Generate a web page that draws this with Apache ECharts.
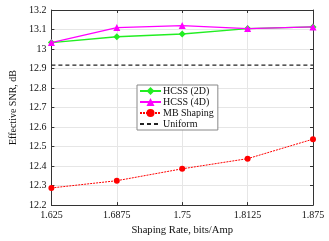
<!DOCTYPE html>
<html><head><meta charset="utf-8">
<script src="https://cdn.jsdelivr.net/npm/echarts@6/dist/echarts.min.js"></script>
<style>html,body{margin:0;padding:0;background:#fff}#c{width:329px;height:241px}</style>
</head><body><div id="c"></div>
<script>
var rates = [1.625, 1.6875, 1.75, 1.8125, 1.875];
var xTickLabels = ['1.625', '1.6875', '1.75', '1.8125', '1.875'];
var hcss2d = [13.033, 13.063, 13.077, 13.105, 13.113];
var hcss4d = [13.033, 13.110, 13.120, 13.105, 13.113];
var mbShaping = [12.288, 12.325, 12.386, 12.438, 12.538];
var uniform = [12.917, 12.917, 12.917, 12.917, 12.917];

function pairs(v){ return rates.map(function(x,i){ return [x, v[i]]; }); }
var font = 'Liberation Serif';
var axCol = '#333';
var txtCol = '#111';
var chart = echarts.init(document.getElementById('c'));
function frameY(pos){
  return {type: 'value', position: pos, min: 12.2, max: 13.2, interval: 0.1,
    axisLine: {show: true, lineStyle: {color: axCol}},
    axisTick: {show: true, inside: true, length: 3, lineStyle: {color: axCol}},
    axisLabel: {show: false}, splitLine: {show: false}};
}
function frameX(pos){
  return {type: 'value', position: pos, min: 1.625, max: 1.875, interval: 0.0625,
    axisLine: {show: true, lineStyle: {color: axCol}},
    axisTick: {show: true, inside: true, length: 3, lineStyle: {color: axCol}},
    axisLabel: {show: false}, splitLine: {show: false}};
}
chart.setOption({
  animation: false,
  textStyle: {fontFamily: font},
  grid: {left: 41, right: 16, top: 10, bottom: 32},
  xAxis: [{
    type: 'value', position: 'bottom', min: 1.625, max: 1.875, interval: 0.0625,
    name: 'Shaping Rate, bits/Amp', nameLocation: 'middle', nameGap: 17,
    nameTextStyle: {fontFamily: font, fontSize: 10.6, color: txtCol},
    axisLine: {show: true, lineStyle: {color: axCol}},
    axisTick: {show: true, inside: true, length: 3, lineStyle: {color: axCol}},
    axisLabel: {fontFamily: font, fontSize: 10, color: txtCol, margin: 5,
      formatter: function(v){ var i = rates.indexOf(+v.toFixed(4)); return i >= 0 ? xTickLabels[i] : ''; }},
    splitLine: {show: true, lineStyle: {color: '#e6e6e6'}}
  }, frameX('top')],
  yAxis: [{
    type: 'value', position: 'left', min: 12.2, max: 13.2, interval: 0.1,
    name: 'Effective SNR, dB', nameLocation: 'middle', nameGap: 32,
    nameTextStyle: {fontFamily: font, fontSize: 10, color: txtCol},
    axisLine: {show: true, lineStyle: {color: axCol}},
    axisTick: {show: true, inside: true, length: 3, lineStyle: {color: axCol}},
    axisLabel: {fontFamily: font, fontSize: 10, color: txtCol, margin: 5,
      formatter: function(v){ return String(Math.round(v*10)/10); }},
    splitLine: {show: true, lineStyle: {color: '#e6e6e6'}}
  }, frameY('right')],
  legend: {
    orient: 'vertical', left: 137, top: 85,
    backgroundColor: '#fff', borderColor: '#888', borderWidth: 1,
    padding: [1, 4, 1, 2], itemGap: 1, itemWidth: 21, itemHeight: 10,
    textStyle: {fontFamily: font, fontSize: 10, color: txtCol, padding: [0,0,0,-3]},
    data: ['HCSS (2D)', 'HCSS (4D)', 'MB Shaping', {name: 'Uniform', itemStyle: {opacity: 0}}]
  },
  series: [
    {name: 'HCSS (2D)', type: 'line', data: pairs(hcss2d), symbol: 'diamond', symbolSize: 7,
     itemStyle: {color: '#22ee22'}, lineStyle: {color: '#22ee22', width: 1.3}, z: 3},
    {name: 'HCSS (4D)', type: 'line', data: pairs(hcss4d), symbol: 'triangle', symbolSize: 7,
     itemStyle: {color: '#ff00ff'}, lineStyle: {color: '#ff00ff', width: 1.3}, z: 4},
    {name: 'MB Shaping', type: 'line', data: pairs(mbShaping), symbol: 'circle', symbolSize: 6,
     itemStyle: {color: '#ff0000'}, lineStyle: {color: '#ff0000', width: 1, type: [2,1]}, z: 3},
    {name: 'Uniform', type: 'line', data: pairs(uniform), symbol: 'circle', showSymbol: false, symbolSize: 0,
     itemStyle: {color: '#222'}, lineStyle: {color: '#222', width: 1.3, type: [4,3]}, z: 2}
  ]
});
</script></body></html>
